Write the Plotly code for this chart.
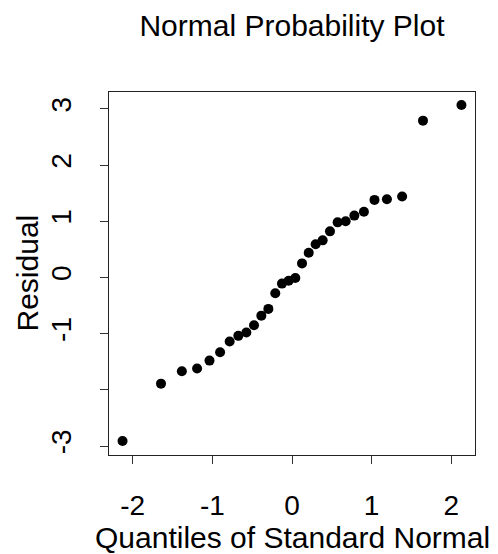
import plotly.graph_objects as go

# Theoretical standard-normal quantiles for a sample of 30 residuals
theoretical_quantiles = [
    -2.128, -1.645, -1.383, -1.192, -1.036, -0.903, -0.783, -0.674, -0.573, -0.477,
    -0.385, -0.297, -0.210, -0.126, -0.042, 0.042, 0.126, 0.210, 0.297, 0.385,
    0.477, 0.573, 0.674, 0.783, 0.903, 1.036, 1.192, 1.383, 1.645, 2.128,
]

# Ordered residuals
residuals = [
    -2.91, -1.89, -1.67, -1.62, -1.48, -1.33, -1.14, -1.04, -0.98, -0.85,
    -0.68, -0.56, -0.28, -0.11, -0.06, -0.01, 0.25, 0.44, 0.59, 0.66,
    0.82, 0.98, 1.00, 1.10, 1.17, 1.38, 1.39, 1.44, 2.79, 3.07,
]

x_tick_vals = [-2, -1, 0, 1, 2]
x_tick_text = ["-2", "-1", "0", "1", "2"]
y_tick_vals = [-3, -2, -1, 0, 1, 2, 3]
y_tick_text = ["-3", "", "-1", "0", "1", "2", "3"]

FONT = "Liberation Sans, Arial, Helvetica, sans-serif"
TICK_FS = 28
LABEL_FS = 30
W, H = 498, 554
L, R, T, B = 109, 23, 92, 99

fig = go.Figure(
    go.Scatter(
        x=theoretical_quantiles,
        y=residuals,
        mode="markers",
        marker=dict(color="black", size=10, line=dict(width=0)),
        showlegend=False,
        hoverinfo="x+y",
    )
)

axis_common = dict(
    showgrid=False,
    zeroline=False,
    showline=True,
    mirror=True,
    linecolor="#222222",
    linewidth=1,
    ticks="outside",
    ticklen=8,
    tickwidth=1,
    tickcolor="#333333",
    tickfont=dict(family=FONT, size=TICK_FS, color="black"),
    tickmode="array",
)

fig.update_xaxes(
    **axis_common,
    range=[-2.298, 2.298],
    tickvals=x_tick_vals,
    ticktext=x_tick_text,
    ticklabelstandoff=17,
)
fig.update_yaxes(
    **axis_common,
    range=[-3.16, 3.30],
    tickvals=y_tick_vals,
    ticktext=y_tick_text,
    tickangle=-90,
    ticklabelstandoff=18,
)

plot_h = H - T - B
plot_w = W - L - R


def py(pix):
    # pixel row from top of page -> paper coordinate
    return (H - B - pix) / plot_h


def px(pix):
    return (pix - L) / plot_w


fig.add_annotation(
    text="Quantiles of Standard Normal",
    xref="paper", yref="paper",
    x=0.5, y=py(537),
    xanchor="center", yanchor="middle",
    showarrow=False,
    font=dict(family=FONT, size=LABEL_FS, color="black"),
)
fig.add_annotation(
    text="Residual",
    xref="paper", yref="paper",
    x=px(27), y=0.5,
    xanchor="center", yanchor="middle",
    textangle=-90,
    showarrow=False,
    font=dict(family=FONT, size=LABEL_FS, color="black"),
)

fig.update_layout(
    width=W,
    height=H,
    margin=dict(l=L, r=R, t=T, b=B),
    paper_bgcolor="white",
    plot_bgcolor="white",
    title=dict(
        text="Normal Probability Plot",
        x=px(292), xanchor="center",
        y=1 - 25 / H, yanchor="middle",
        xref="paper", yref="container",
        font=dict(family=FONT, size=LABEL_FS, color="black"),
    ),
)

fig.write_html("out.html")
